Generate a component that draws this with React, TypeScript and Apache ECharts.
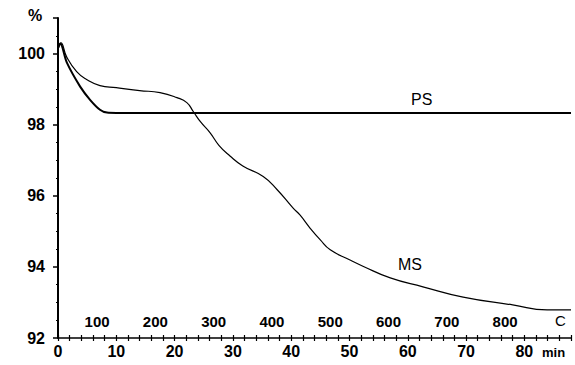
import React, { useEffect, useRef } from "react";
import * as echarts from "echarts";

const msTime = [0, 0.5, 1.5, 3.2, 4.9, 7.2, 10, 14, 17.5, 20.4, 22.1, 23.2, 24.5, 26.1, 27.6, 29.5, 31.7, 35.2, 37.6, 40.3, 41.5, 43.2, 45, 46.7, 50, 52.3, 57, 62.6, 69.5, 78, 83.9, 88];
const msValues = [100.1, 100.3, 99.9, 99.49, 99.27, 99.1, 99.04, 98.96, 98.9, 98.76, 98.62, 98.37, 98.07, 97.77, 97.42, 97.12, 96.84, 96.54, 96.17, 95.66, 95.46, 95.1, 94.76, 94.48, 94.2, 94.02, 93.69, 93.44, 93.15, 92.93, 92.79, 92.79];

const psTime = [0, 0.4, 1.5, 3.8, 5.5, 7.2, 8.4, 10, 88];
const psValues = [100.15, 100.28, 99.75, 99.07, 98.7, 98.42, 98.34, 98.33, 98.33];

const tempTicks = [100, 200, 300, 400, 500, 600, 700, 800];
const timeMax = 88;
const tempAtZero = 33;
const tempPerMin = 10;

const font = "Liberation Sans, Arial, sans-serif";

export default function App() {
  const ref = useRef<HTMLDivElement>(null);
  useEffect(() => {
    if (!ref.current) return;
    const chart = echarts.init(ref.current, null, { renderer: "svg" });
    const ms = msTime.map((t, i) => [t, msValues[i]]);
    const ps = psTime.map((t, i) => [t, psValues[i]]);
    chart.setOption({
      animation: false,
      backgroundColor: "#fff",
      grid: { left: 58, right: 4, top: 18, bottom: 27 },
      xAxis: [
        {
          type: "value",
          min: 0,
          max: timeMax,
          interval: 10,
          position: "bottom",
          axisLine: { lineStyle: { color: "#000", width: 1.5 } },
          axisTick: { show: true, length: 3, lineStyle: { color: "#000", width: 1.2 } },
          minorTick: { show: true, splitNumber: 5, length: 3, lineStyle: { color: "#000", width: 1.2 } },
          splitLine: { show: false },
          axisLabel: {
            color: "#000",
            fontFamily: font,
            fontWeight: "bold",
            fontSize: 16,
            margin: 5,
            showMaxLabel: false,
          },
        },
        {
          type: "value",
          min: 0,
          max: timeMax,
          interval: 10,
          position: "bottom",
          axisLine: { show: false },
          axisTick: { show: true, inside: true, length: 3, lineStyle: { color: "#000", width: 1.2 } },
          minorTick: { show: true, splitNumber: 5, length: 3, lineStyle: { color: "#000", width: 1.2 } },
          splitLine: { show: false },
          axisLabel: { show: false },
        },
        {
          type: "value",
          min: tempAtZero,
          max: tempAtZero + tempPerMin * timeMax,
          position: "bottom",
          axisLine: { show: false },
          axisTick: { show: false },
          splitLine: { show: false },
          axisLabel: {
            inside: true,
            customValues: tempTicks,
            color: "#000",
            fontFamily: font,
            fontWeight: "bold",
            fontSize: 15,
            margin: 9,
          },
        },
      ],
      yAxis: {
        type: "value",
        min: 92,
        max: 101,
        interval: 2,
        axisLine: { show: true, lineStyle: { color: "#000", width: 2 } },
        axisTick: { show: true, length: 5, lineStyle: { color: "#000", width: 1.5 } },
        minorTick: { show: true, splitNumber: 4, length: 2, lineStyle: { color: "#000" } },
        splitLine: { show: false },
        axisLabel: {
          color: "#000",
          fontFamily: font,
          fontWeight: "bold",
          fontSize: 16,
          margin: 13,
          showMaxLabel: false,
        },
      },
      series: [
        {
          name: "PS",
          type: "line",
          data: ps,
          smooth: 0.3,
          symbol: "none",
          lineStyle: { color: "#000", width: 2 },
        },
        {
          name: "MS",
          type: "line",
          data: ms,
          smooth: 0.5,
          symbol: "none",
          lineStyle: { color: "#000", width: 1.2 },
        },
      ],
      graphic: [
        { type: "text", left: 28, top: 7, style: { text: "%", font: `bold 16px ${font}`, fill: "#000" } },
        { type: "text", left: 411, top: 91, style: { text: "PS", font: `16px ${font}`, fill: "#000" } },
        { type: "text", left: 398, top: 256, style: { text: "MS", font: `16px ${font}`, fill: "#000" } },
        { type: "text", left: 555, top: 313, style: { text: "C", font: `15px ${font}`, fill: "#000" } },
        { type: "text", left: 542, top: 346, style: { text: "min", font: `bold 13px ${font}`, fill: "#000" } },
      ],
    });
    return () => chart.dispose();
  }, []);
  return <div ref={ref} style={{ width: 575, height: 365, position: "absolute", left: 0, top: 0 }} />;
}
